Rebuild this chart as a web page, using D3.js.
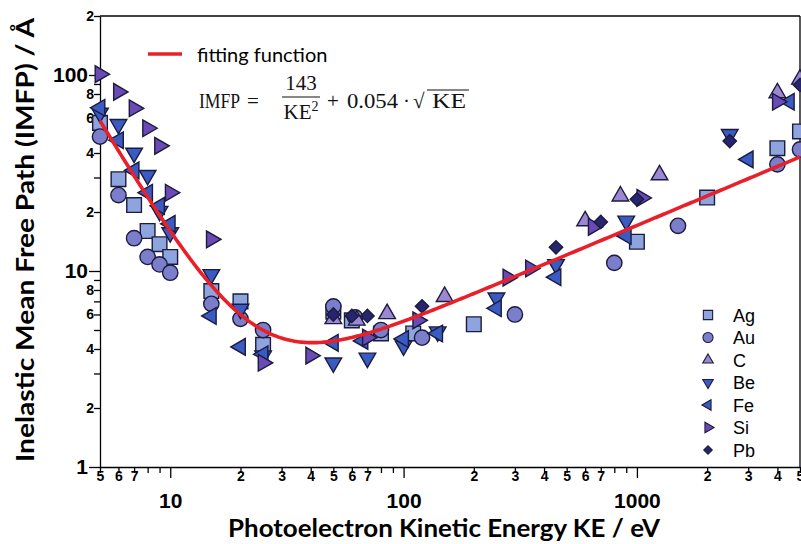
<!DOCTYPE html>
<html>
<head>
<meta charset="utf-8">
<script src="https://cdn.jsdelivr.net/npm/d3@7"></script>
<style>
  body { margin: 0; background: #fff; }
  svg { display: block; }
  .axis path, .axis line { stroke: #000; stroke-width: 1.3; }
  .axis text { font-family: "Liberation Sans", Arial, sans-serif; font-weight: bold; fill: #000; }
</style>
</head>
<body>
<div id="chart"></div>
<script>
// ---- data: [KE (eV), IMFP (Å)] ----
const ag = [[5,57],[6,29.4],[7,21.7],[8,16],[9,13.7],[10,11.8],[15,7.9],[20,7.0],[25,4.2],[50,6.2],[60,5.6],[80,4.8],[110,4.8],[200,5.35],[1000,14.1],[2000,23.7],[4000,42.3],[5000,51.5]];
const au = [[5,48.5],[6,24.4],[7,14.7],[8,11.8],[9,10.8],[10,9.8],[15,6.8],[20,5.7],[25,5.0],[50,6.6],[62,5.8],[80,5.0],[120,4.57],[300,6.0],[800,11.0],[1500,17.0],[4000,35],[5000,41.7]];
const cc = [[50,5.7],[63,5.6],[85,6.05],[150,7.4],[600,18.0],[850,24.1],[1250,30.9],[4000,81],[5000,95]];
const be = [[5,64],[6,56],[7,40],[8,30.8],[9,20.2],[10,15.7],[15,9.6],[20,6.4],[25,3.7],[50,3.4],[70,3.6],[100,4.15],[140,4.9],[250,7.3],[450,10.8],[900,18.0],[2500,49.8]];
const fe = [[5,68],[6,46.5],[7,32.6],[8,25.1],[9,21.5],[10,17.4],[15,5.9],[20,4.1],[25,3.76],[50,4.3],[67,4.4],[100,4.5],[140,4.8],[250,6.45],[450,9.3],[900,15.1],[3000,37.1],[4500,73]];
const si = [[5,101],[6,82],[7,67.6],[8,53.5],[9,43.5],[10,25.1],[15,14.5],[25,3.4],[40,3.7],[70,4.57],[115,5.6],[280,9.25],[350,10.3],[650,16.8],[1050,23.6],[4000,73]];
const pb = [[50,6.0],[60,5.9],[70,5.9],[120,6.6],[450,13.2],[700,17.8],[1000,23.2],[2500,46],[5000,89]];

const seriesNames = ["Ag", "Au", "C", "Be", "Fe", "Si", "Pb"];
const seriesData  = [ag, au, cc, be, fe, si, pb];

// fitting function printed on the chart (nm), plotted in Å
const fitA = 143, fitB = 0.054;

const xTicks = [5,6,7,8,9,10,20,30,40,50,60,70,80,90,100,200,300,400,500,600,700,800,900,1000,2000,3000,4000,5000];
const yTicks = [1,2,3,4,5,6,7,8,9,10,20,30,40,50,60,70,80,90,100,200];

(function() {
  const fullW = 801, fullH = 544;
  const margin = { top: 16, right: 1, bottom: 77, left: 100 };
  const W = fullW - margin.left - margin.right;
  const H = fullH - margin.top - margin.bottom;

  const svg = d3.select("#chart").append("svg")
    .attr("width", fullW).attr("height", fullH);

  const g = svg.append("g").attr("transform", `translate(${margin.left},${margin.top})`);

  const x = d3.scaleLog().domain([5, 5000]).range([0, W]);
  const y = d3.scaleLog().domain([1, 200]).range([H, 0]);

  const lead = v => Math.round(v / Math.pow(10, Math.floor(Math.log10(v) + 1e-9)));

  // frame (top, right)
  g.append("line").attr("x1", 0).attr("x2", W).attr("y1", 0).attr("y2", 0)
    .attr("stroke", "#000").attr("stroke-width", 1.3);
  g.append("line").attr("x1", W).attr("x2", W).attr("y1", 0).attr("y2", H)
    .attr("stroke", "#000").attr("stroke-width", 1.3);

  // x axis
  const xAxisG = g.append("g").attr("class", "axis").attr("transform", `translate(0,${H})`)
    .call(d3.axisBottom(x).tickValues(xTicks).tickSizeOuter(0)
      .tickFormat(d => { const l = lead(d); return l === 1 ? d : (l >= 8 ? "" : l); }));
  xAxisG.selectAll(".tick").each(function(d) {
    const major = lead(d) === 1;
    const t = d3.select(this);
    t.select("line").attr("y2", major ? 11 : 6);
    t.select("text").attr("y", major ? 26 : 4).attr("font-size", major ? 21 : 14);
  });

  // y axis
  const yAxisG = g.append("g").attr("class", "axis")
    .call(d3.axisLeft(y).tickValues(yTicks).tickSizeOuter(0)
      .tickFormat(d => { const l = lead(d); return l === 1 ? d : (l % 2 ? "" : l); }));
  yAxisG.selectAll(".tick").each(function(d) {
    const major = lead(d) === 1;
    const t = d3.select(this);
    t.select("line").attr("x2", major ? -11 : -6);
    t.select("text").attr("x", major ? -12 : -6).attr("font-size", major ? 21 : 14);
  });
  xAxisG.select(".domain").attr("stroke-width", 1.3);
  yAxisG.select(".domain").attr("stroke-width", 1.3);

  // axis titles
  svg.append("text")
    .attr("x", 444).attr("y", 537)
    .attr("text-anchor", "middle")
    .attr("font-family", "Lato, 'Open Sans', sans-serif").attr("font-weight", "bold")
    .attr("font-size", 24)
    .attr("textLength", 432).attr("lengthAdjust", "spacingAndGlyphs")
    .text("Photoelectron Kinetic Energy KE / eV");

  svg.append("text")
    .attr("transform", "translate(34,240) rotate(-90)")
    .attr("text-anchor", "middle")
    .attr("font-family", "Lato, 'Open Sans', sans-serif").attr("font-weight", "bold")
    .attr("font-size", 24)
    .attr("textLength", 444).attr("lengthAdjust", "spacingAndGlyphs")
    .text("Inelastic Mean Free Path (IMFP) / Å");

  // marker styles
  const style = {
    Ag: { type: d3.symbolSquare,   rot: 0,   size: 215, legend: 86, fill: "#8ea4df" },
    Au: { type: d3.symbolCircle,   rot: 0,   size: 185, legend: 80, fill: "#7b7ecb" },
    C:  { type: d3.symbolTriangle, rot: 0,   size: 120, legend: 48, fill: "#9c88d2" },
    Be: { type: d3.symbolTriangle, rot: 180, size: 120, legend: 48, fill: "#3a5cc2" },
    Fe: { type: d3.symbolTriangle, rot: -90, size: 120, legend: 48, fill: "#3a5cc2" },
    Si: { type: d3.symbolTriangle, rot: 90,  size: 120, legend: 48, fill: "#6a4bb6" },
    Pb: { type: d3.symbolSquare,   rot: 45,  size: 90,  legend: 36, fill: "#26256e" }
  };
  const stroke = "#1b1b3e";

  seriesNames.forEach((name, i) => {
    const s = style[name];
    g.append("g").selectAll("path")
      .data(seriesData[i])
      .enter().append("path")
      .attr("d", d3.symbol().type(s.type).size(s.size))
      .attr("transform", d => `translate(${x(d[0])},${y(d[1])}) rotate(${s.rot})`)
      .attr("fill", s.fill)
      .attr("stroke", stroke)
      .attr("stroke-width", 1.4);
  });

  // fitted curve
  const fitKE = d3.range(0, 401).map(i => 5 * Math.pow(1000, i / 400));
  const line = d3.line()
    .x(ke => x(ke))
    .y(ke => y(10 * (fitA / (ke * ke) + fitB * Math.sqrt(ke))));
  g.append("path")
    .datum(fitKE)
    .attr("d", line)
    .attr("fill", "none")
    .attr("stroke", "#e8202a")
    .attr("stroke-width", 3.6);

  // fit legend
  svg.append("line").attr("x1", 148).attr("x2", 182).attr("y1", 54).attr("y2", 54)
    .attr("stroke", "#e8202a").attr("stroke-width", 3.4);
  svg.append("text").attr("x", 197).attr("y", 62)
    .attr("font-family", "Lato, 'Open Sans', sans-serif").attr("font-size", 20)
    .text("fitting function");

  // formula
  const eq = svg.append("g")
    .attr("font-family", "'Liberation Serif', 'DejaVu Serif', serif")
    .attr("font-size", 21).attr("fill", "#111");
  eq.append("text").attr("transform", "translate(199,108) scale(0.84,1)").text("IMFP");
  eq.append("text").attr("x", 247).attr("y", 108).text("=");
  eq.append("text").attr("x", 301).attr("y", 90).attr("text-anchor", "middle").text(fitA);
  eq.append("line").attr("x1", 282).attr("x2", 320).attr("y1", 97).attr("y2", 97)
    .attr("stroke", "#111").attr("stroke-width", 1.2);
  const den = eq.append("text").attr("x", 301).attr("y", 119).attr("text-anchor", "middle");
  den.append("tspan").text("KE");
  den.append("tspan").attr("font-size", 14).attr("dy", -8).text("2");
  eq.append("text").attr("x", 327).attr("y", 108).text("+");
  eq.append("text").attr("x", 347).attr("y", 108)
    .attr("textLength", 51).attr("lengthAdjust", "spacingAndGlyphs").text(fitB);
  eq.append("text").attr("x", 403).attr("y", 108).text("·");
  eq.append("text").attr("x", 413).attr("y", 108).text("√");
  eq.append("text").attr("x", 432).attr("y", 108)
    .attr("textLength", 34).attr("lengthAdjust", "spacingAndGlyphs").text("KE");
  eq.append("line").attr("x1", 427).attr("x2", 469)
    .attr("y1", 90).attr("y2", 90).attr("stroke", "#111").attr("stroke-width", 1.1);

  // element legend
  const leg = svg.append("g").attr("transform", "translate(708,315)");
  seriesNames.forEach((name, i) => {
    const s = style[name];
    const row = leg.append("g").attr("transform", `translate(0,${i * 22.5})`);
    row.append("path")
      .attr("d", d3.symbol().type(s.type).size(s.legend))
      .attr("transform", `rotate(${s.rot})`)
      .attr("fill", s.fill).attr("stroke", stroke).attr("stroke-width", 1.1);
    row.append("text").attr("x", 25).attr("y", 6.5)
      .attr("font-family", "'Liberation Sans', Arial, sans-serif").attr("font-size", 18)
      .text(name);
  });
})();
</script>
</body>
</html>
